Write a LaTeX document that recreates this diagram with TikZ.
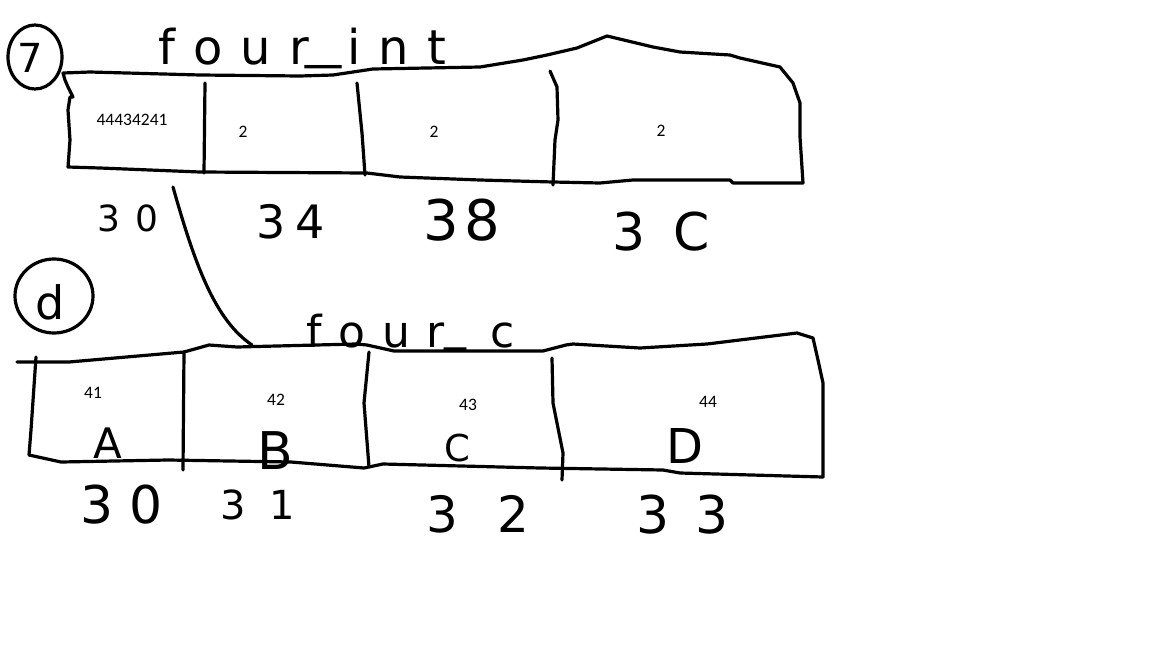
\documentclass[tikz,border=0pt]{standalone}
\usepackage{fontspec}
\usetikzlibrary{shapes.geometric}
\newfontfamily\handfont{DejaVu Sans}
\newfontfamily\handwide[LetterSpace=38]{DejaVu Sans}
\newfontfamily\printfont{Carlito}
\tikzset{
  ink/.style={line width=3.2pt, line cap=round, line join=round, draw=black},
  hand/.style={font=\handfont\fontsize{#1}{#1}\selectfont, inner sep=0pt},
  handw/.style={font=\handwide\fontsize{#1}{#1}\selectfont, inner sep=0pt},
  printed/.style={font=\printfont\fontsize{17.5}{17.5}\selectfont, inner sep=0pt, text=black},
  ring/.style={ink, ellipse, inner sep=0pt},
}
\newcommand{\handbar}{\raisebox{7pt}{\_}}
\begin{document}
\begin{tikzpicture}[x=1pt,y=-1pt]
\path[fill=white, use as bounding box] (0,0) rectangle (1152,648);

% ---------- question markers ----------
\node[ring, minimum width=54pt, minimum height=64pt] (ring7) at (35,57) {};
\node[hand=40] (q7) at (30,58) {7};
\node[ring, minimum width=78pt, minimum height=74pt] (ringd) at (54,296) {};
\node[hand=46] (qd) at (50,302) {d};

% ---------- top structure: four_int ----------
\node[handw=48, anchor=base west] (lint) at (158,64) {four\hspace{-4pt}\scalebox{1.5}[1]{\handbar}\hspace{6pt}int};
\draw[ink] (65,80) -- (63,73) -- (90,72) -- (200,75) -- (300,76) -- (333,75) -- (373,69)
  -- (480,67) -- (523,60) -- (547,55) -- (577,48) -- (607,36) -- (653,47) -- (680,52)
  -- (730,55) -- (740,58) -- (780,67) -- (793,83) -- (800,103) -- (800,137) -- (803,183)
  -- (733,183) -- (730,180) -- (633,180) -- (600,183) -- (553,182) -- (480,180)
  -- (400,177) -- (367,173) -- (200,172) -- (100,168) -- (68,167) -- (70,140)
  -- (68,110) -- (70,97) -- (73,97) -- (68,87) -- cycle;
\draw[ink] (205,83) -- (204,173);
\draw[ink] (357,83) -- (362,133) -- (365,175);
\draw[ink] (550,71) -- (557,87) -- (558,120) -- (555,140) -- (553,185);

\node[printed] (v1) at (132,120) {44434241};
\node[printed] (v2) at (243,132) {2};
\node[printed] (v3) at (434,132) {2};
\node[printed] (v4) at (661,131) {2};

\node[hand=36] (a30) at (128,218) {3\hspace{16pt}0};
\node[hand=46] (a34) at (291,222) {3\hspace{10pt}4};
\node[hand=56] (a38) at (462,220) {3\hspace{6pt}8};
\node[hand=52] (a3c) at (661,232) {3\hspace{28pt}C};

% ---------- connector ----------
\coordinate (cA) at (173,187);
\coordinate (cB) at (252,345);
\draw[ink] (cA) .. controls (195,265) and (215,320) .. (cB);

% ---------- lower structure: four_c ----------
\node[handw=44, anchor=base west] (lc) at (306,347) {four\handbar\hspace{24pt}c};
\draw[ink] (17,362) -- (69,362) -- (115,358) -- (184,352) -- (209,345) -- (237,347)
  -- (356,344) -- (367,345) -- (394,351) -- (543,351) -- (566,345) -- (573,344)
  -- (640,348) -- (707,344) -- (797,333) -- (813,338) -- (818,360) -- (823,383)
  -- (823,477) -- (680,473) -- (663,470) -- (540,468) -- (383,464) -- (364,468)
  -- (291,462) -- (168,460) -- (61,462) -- (29,455) -- (31,430) -- (36,357);
\draw[ink] (184,352) -- (183,470);
\draw[ink] (369,352) -- (364,403) -- (369,467);
\draw[ink] (552,358) -- (553,403) -- (563,453) -- (562,480);

\node[printed] (w1) at (93,393) {41};
\node[printed] (w2) at (276,400) {42};
\node[printed] (w3) at (468,405) {43};
\node[printed] (w4) at (708,402) {44};

\node[hand=42] (lA) at (108,443) {A};
\node[hand=52] (lB) at (275,451) {B};
\node[hand=37] (lC) at (457,448) {C};
\node[hand=48] (lD) at (685,446) {D};

\node[hand=52] (b30) at (122,505) {3\hspace{16pt}0};
\node[hand=40] (b31) at (258,505) {3\hspace{24pt}1};
\node[hand=50] (b32) at (478,514) {3\hspace{40pt}2};
\node[hand=52] (b33) at (683,515) {3\hspace{26pt}3};
\end{tikzpicture}
\end{document}
